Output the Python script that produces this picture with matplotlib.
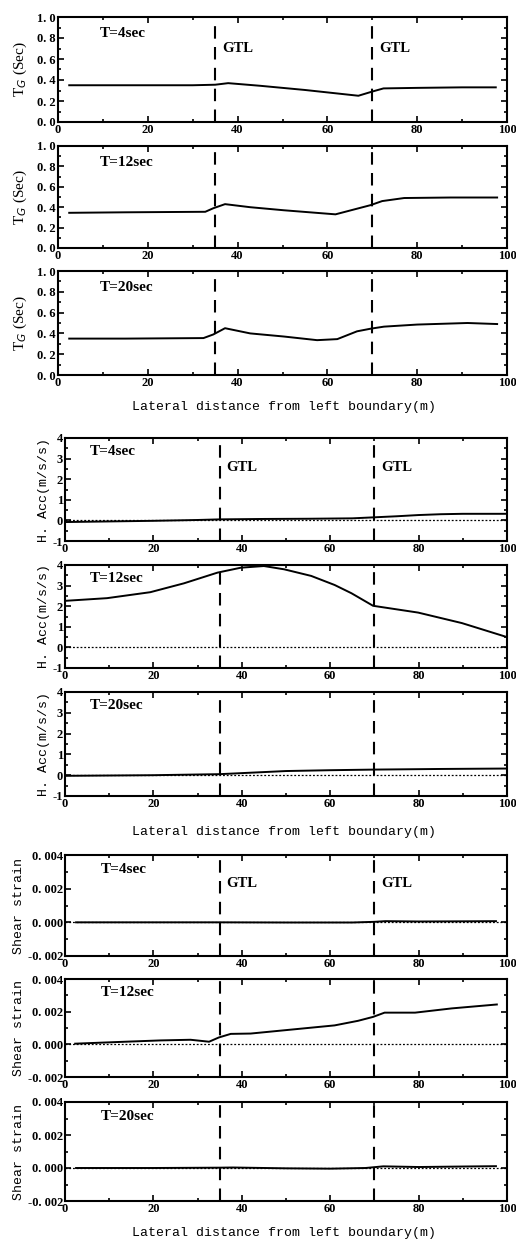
import matplotlib.pyplot as plt
from matplotlib.ticker import MultipleLocator

# ---- data ----
gtl_x = [35, 70]

tg4_x = [2.5, 10, 20, 30, 35, 37.9, 45, 55, 66.9, 70, 72.5, 80, 90, 97.5]
tg4_y = [0.35, 0.35, 0.35, 0.35, 0.355, 0.37, 0.345, 0.305, 0.25, 0.29, 0.32, 0.325, 0.33, 0.33]

tg12_x = [2.5, 15, 32.8, 34.6, 37.2, 42.8, 50.3, 61.8, 69.6, 72.2, 77.1, 87.5, 97.8]
tg12_y = [0.345, 0.35, 0.355, 0.39, 0.43, 0.40, 0.37, 0.33, 0.42, 0.46, 0.49, 0.495, 0.495]

tg20_x = [2.5, 15, 32.4, 34.6, 37.2, 42.8, 50.3, 57.7, 62.2, 66.6, 69.6, 72.6, 80, 91.2, 97.8]
tg20_y = [0.35, 0.35, 0.355, 0.39, 0.45, 0.40, 0.37, 0.335, 0.345, 0.42, 0.445, 0.465, 0.485, 0.5, 0.49]

acc4_x = [0, 10, 20, 30, 35, 45, 55, 65, 70, 75, 80, 85, 90, 100]
acc4_y = [-0.08, -0.05, -0.02, 0.02, 0.05, 0.07, 0.08, 0.1, 0.15, 0.2, 0.26, 0.3, 0.32, 0.32]

acc12_x = [0, 9.5, 19.3, 26.9, 34.5, 39.8, 45, 49.6, 55.7, 61, 64.8, 69.7, 79.9, 89.8, 100]
acc12_y = [2.26, 2.39, 2.68, 3.11, 3.63, 3.87, 3.95, 3.79, 3.47, 3.03, 2.63, 2.02, 1.69, 1.18, 0.5]

acc20_x = [0, 20, 35, 50, 60, 70, 85, 100]
acc20_y = [-0.03, 0.0, 0.05, 0.2, 0.24, 0.27, 0.3, 0.32]

sh4_x = [2.5, 20, 35, 50, 65, 70, 72.5, 80, 90, 97.5]
sh4_y = [0.0, 0.0, 0.0, -0.00001, -0.00001, 0.00003, 0.00007, 0.00005, 0.00006, 0.00007]

sh12_x = [2.3, 11.7, 21.6, 28.4, 32.6, 34.8, 37.5, 42, 49.6, 61, 66.3, 69.7, 72.3, 79.2, 87.5, 97.7]
sh12_y = [0.00004, 0.00014, 0.00024, 0.00028, 0.00016, 0.00042, 0.00064, 0.00066, 0.00086,
          0.00116, 0.00144, 0.00168, 0.00194, 0.00194, 0.0022, 0.00244]

sh20_x = [2.5, 20, 35, 38, 50, 60, 68, 72, 80, 90, 97.5]
sh20_y = [0.0, 0.0, 0.00002, 0.00003, -0.00002, -0.00004, 0.0, 0.0001, 0.00006, 0.00009, 0.00011]

periods = ['T=4sec', 'T=12sec', 'T=20sec']

tg_ticks = [0, 0.2, 0.4, 0.6, 0.8, 1.0]
tg_labels = ['0. 0', '0. 2', '0. 4', '0. 6', '0. 8', '1. 0']
acc_ticks = [-1, 0, 1, 2, 3, 4]
acc_labels = ['-1', '0', '1', '2', '3', '4']
sh_ticks = [-0.002, 0, 0.002, 0.004]
sh_labels = ['-0. 002', '0. 000', '0. 002', '0. 004']

W, H = 516, 1240
fig = plt.figure(figsize=(W / 100, H / 100), dpi=100)

tickfont = dict(family='Liberation Serif', weight='bold', size=9)
monofont = dict(family='Liberation Mono', size=9.5)
seriffont = dict(family='Liberation Serif', size=11)


def make_ax(left, top, bottom, right=507):
    return fig.add_axes([left / W, 1 - bottom / H, (right - left) / W, (bottom - top) / H])


def style(ax, yticks, ylabels, ylim, yminor):
    ax.set_xlim(0, 100)
    ax.set_ylim(*ylim)
    ax.set_xticks([0, 20, 40, 60, 80, 100])
    ax.set_xticklabels(['0', '20', '40', '60', '80', '100'], **tickfont)
    ax.xaxis.set_minor_locator(MultipleLocator(10))
    ax.set_yticks(yticks)
    ax.set_yticklabels(ylabels, **tickfont)
    ax.yaxis.set_minor_locator(MultipleLocator(yminor))
    ax.tick_params(which='both', direction='in', top=True, right=True, width=1.2, pad=1.5)
    ax.tick_params(which='major', length=4.5)
    ax.tick_params(which='minor', length=2.5)
    for s in ax.spines.values():
        s.set_linewidth(1.5)
    for g in gtl_x:
        ax.axvline(g, color='black', lw=1.5, dashes=(6, 4))


groups = [
    dict(series=[(tg4_x, tg4_y), (tg12_x, tg12_y), (tg20_x, tg20_y)],
         ylabel='T$_G$ (Sec)', yfont=seriffont, pad=6, ticks=tg_ticks, labels=tg_labels,
         ylim=(0, 1.0), minor=0.1, left=58, boxes=[(17, 122), (146, 248), (271, 375)],
         zero=False, txt_x=9.3, txt_y=0.84, gtl_y=0.7, xlab_y=407),
    dict(series=[(acc4_x, acc4_y), (acc12_x, acc12_y), (acc20_x, acc20_y)],
         ylabel='H. Acc(m/s/s)', yfont=monofont, pad=2, ticks=acc_ticks, labels=acc_labels,
         ylim=(-1, 4), minor=0.5, left=65, boxes=[(438, 541), (565, 668), (692, 796)],
         zero=True, txt_x=5.5, txt_y=3.35, gtl_y=2.55, xlab_y=832),
    dict(series=[(sh4_x, sh4_y), (sh12_x, sh12_y), (sh20_x, sh20_y)],
         ylabel='Shear strain', yfont=monofont, pad=2, ticks=sh_ticks, labels=sh_labels,
         ylim=(-0.002, 0.004), minor=0.001, left=65, boxes=[(855, 956), (979, 1077), (1102, 1201)],
         zero=True, txt_x=8, txt_y=0.00315, gtl_y=0.0023, xlab_y=1233),
]

for grp in groups:
    for i, ((xs, ys), (top, bot)) in enumerate(zip(grp['series'], grp['boxes'])):
        ax = make_ax(grp['left'], top, bot)
        style(ax, grp['ticks'], grp['labels'], grp['ylim'], grp['minor'])
        if grp['zero']:
            ax.axhline(0, color='black', lw=0.9, ls=(0, (1.5, 1.5)))
        ax.plot(xs, ys, color='black', lw=1.4)
        ax.text(grp['txt_x'], grp['txt_y'], periods[i], family='Liberation Serif',
                weight='bold', fontsize=11, va='center')
        if i == 0:
            for g in gtl_x:
                ax.text(g + 1.5, grp['gtl_y'], 'GTL', family='Liberation Serif',
                        weight='bold', fontsize=10.5, va='center')
        ax.set_ylabel(grp['ylabel'], **grp['yfont'], labelpad=grp['pad'])
    fig.text(284 / W, 1 - grp['xlab_y'] / H, 'Lateral distance from left boundary(m)',
             ha='center', va='center', **monofont)

fig.savefig('out.png', dpi=100)
